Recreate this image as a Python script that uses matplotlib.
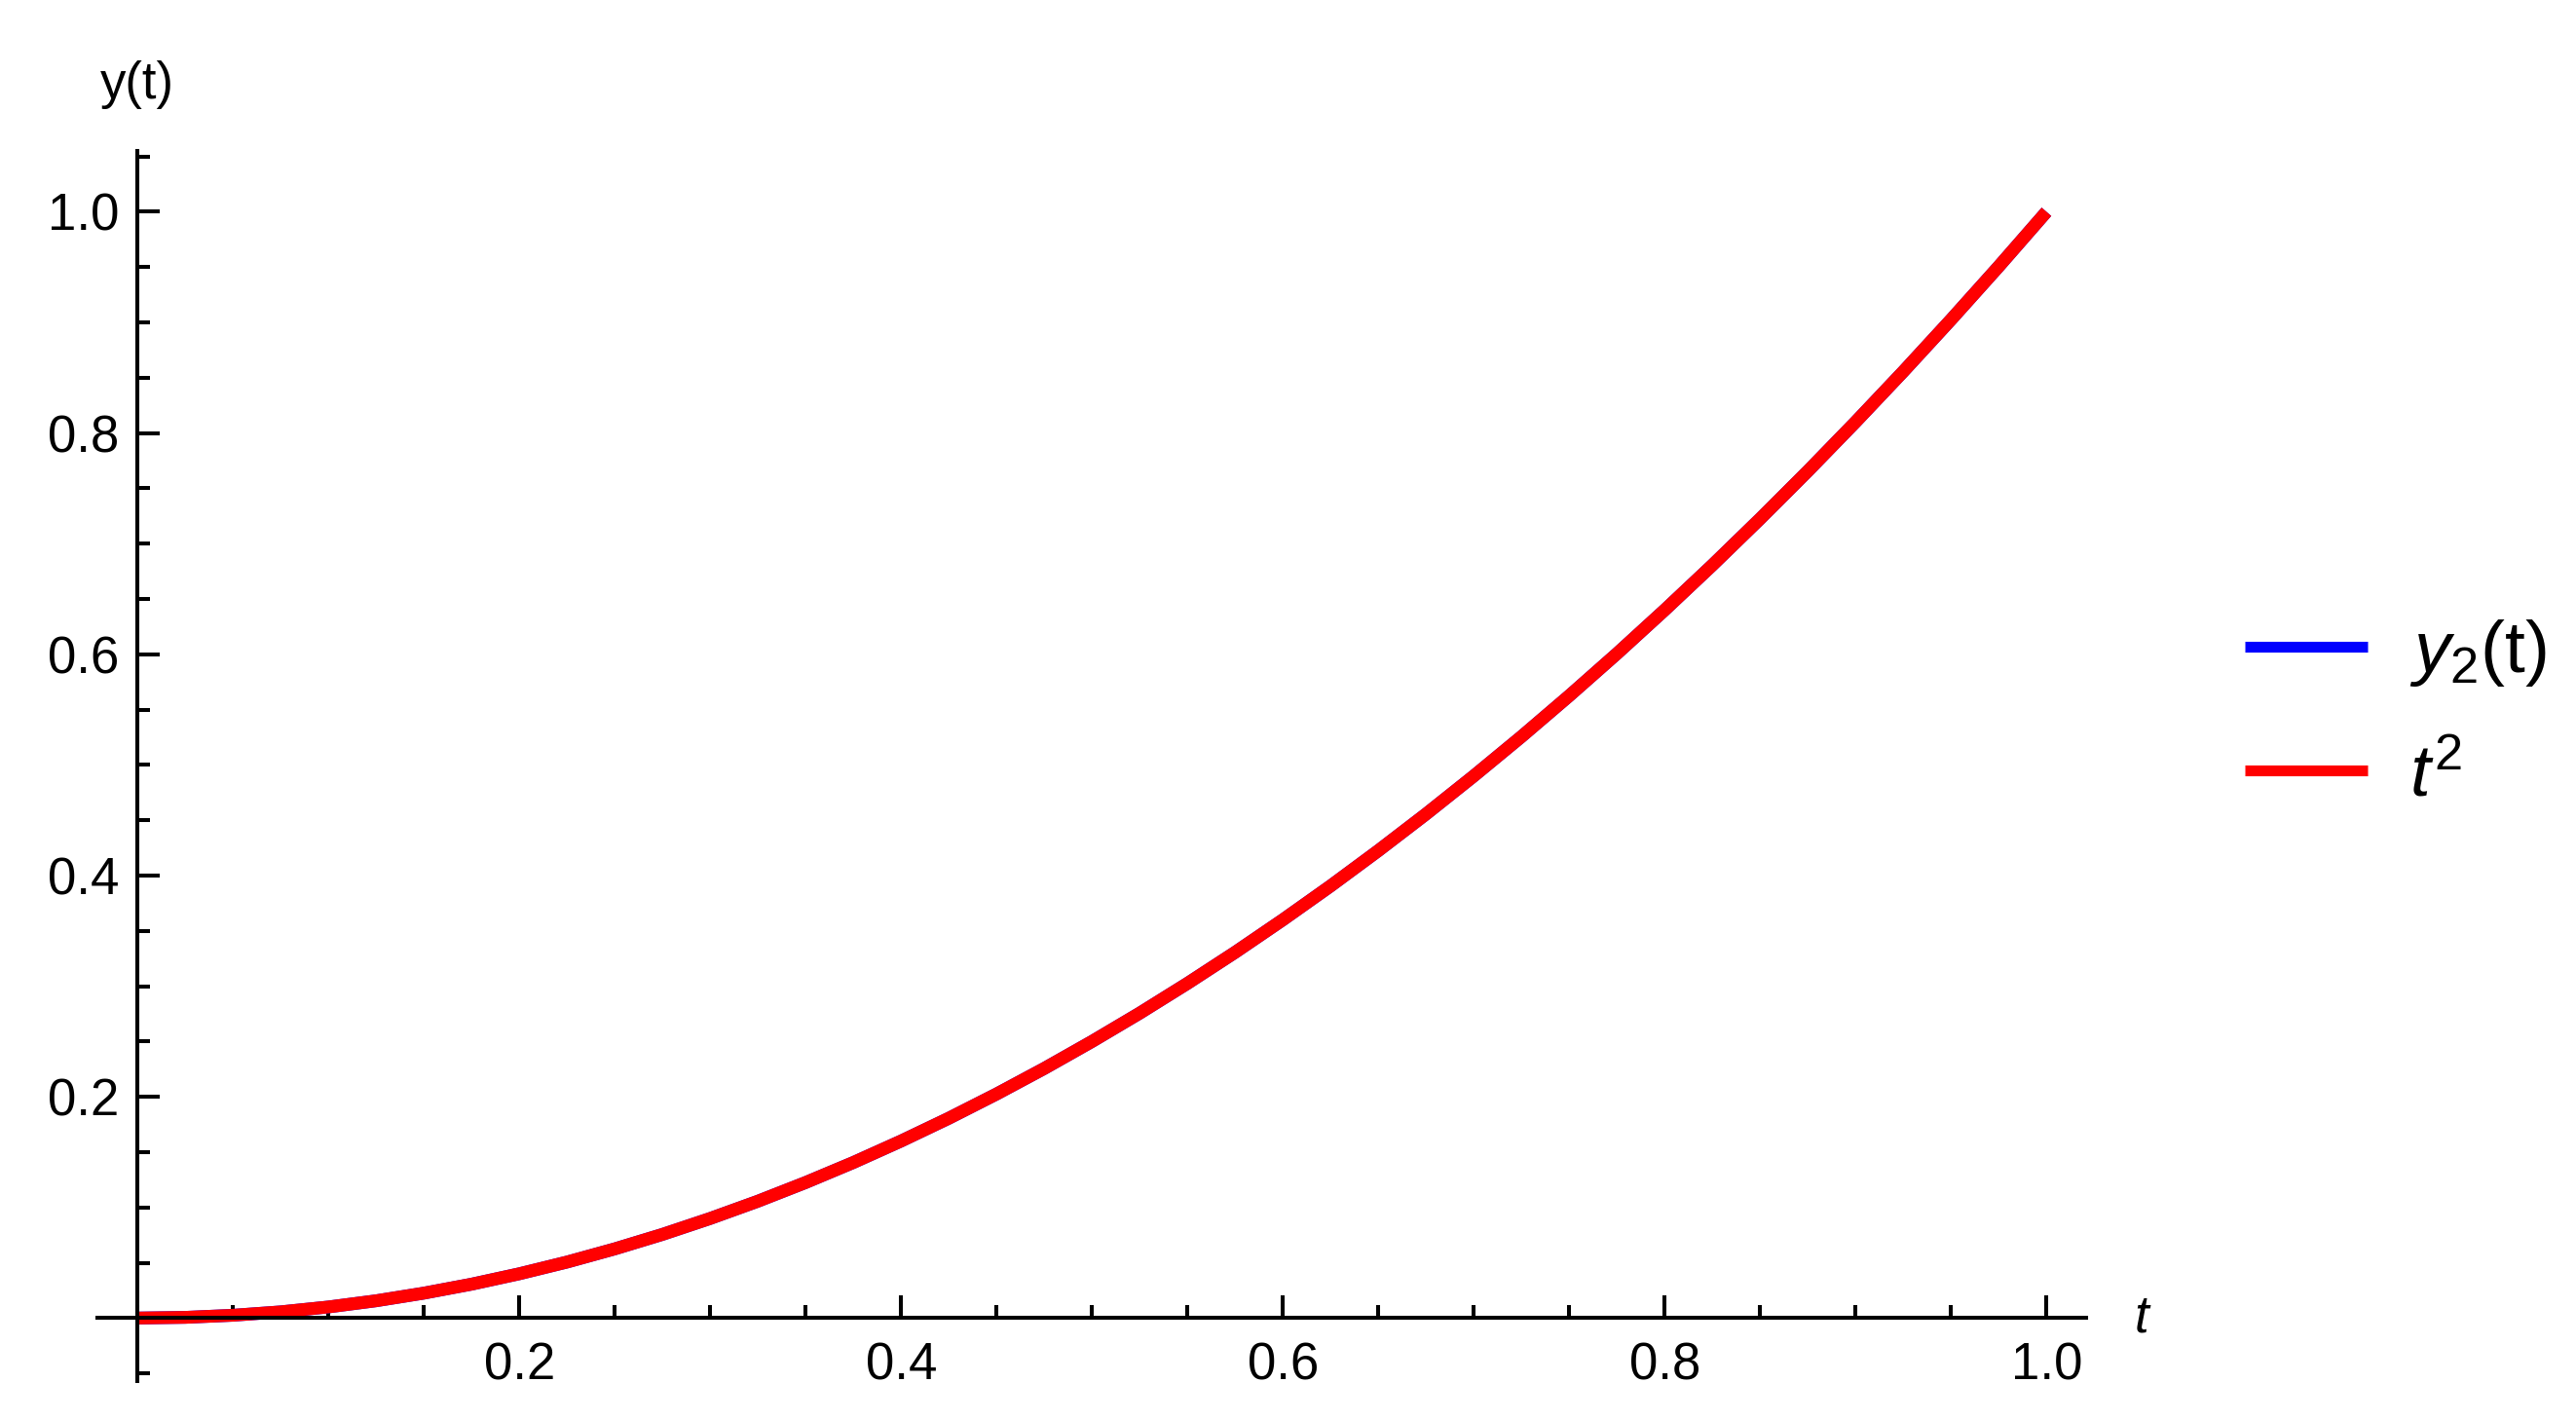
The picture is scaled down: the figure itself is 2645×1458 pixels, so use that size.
import numpy as np
import matplotlib
matplotlib.use('Agg')
import matplotlib.pyplot as plt
from matplotlib.ticker import MultipleLocator, FixedLocator

plt.rcParams['font.family'] = ['Liberation Sans', 'DejaVu Sans']
plt.rcParams['mathtext.fontset'] = 'custom'
plt.rcParams['mathtext.rm'] = 'Liberation Sans'
plt.rcParams['mathtext.it'] = 'Liberation Sans:italic'

# values (the two curves lie on top of each other)
t_vals = [0.000, 0.025, 0.050, 0.075, 0.100, 0.125, 0.150, 0.175, 0.200, 0.225,
          0.250, 0.275, 0.300, 0.325, 0.350, 0.375, 0.400, 0.425, 0.450, 0.475,
          0.500, 0.525, 0.550, 0.575, 0.600, 0.625, 0.650, 0.675, 0.700, 0.725,
          0.750, 0.775, 0.800, 0.825, 0.850, 0.875, 0.900, 0.925, 0.950, 0.975,
          1.000]
y2_vals = [0.0000, 0.0006, 0.0025, 0.0056, 0.0100, 0.0156, 0.0225, 0.0306,
           0.0400, 0.0506, 0.0625, 0.0756, 0.0900, 0.1056, 0.1225, 0.1406,
           0.1600, 0.1806, 0.2025, 0.2256, 0.2500, 0.2756, 0.3025, 0.3306,
           0.3600, 0.3906, 0.4225, 0.4556, 0.4900, 0.5256, 0.5625, 0.6006,
           0.6400, 0.6806, 0.7225, 0.7656, 0.8100, 0.8556, 0.9025, 0.9506,
           1.0000]
tsq_vals = [0.0000, 0.0006, 0.0025, 0.0056, 0.0100, 0.0156, 0.0225, 0.0306,
            0.0400, 0.0506, 0.0625, 0.0756, 0.0900, 0.1056, 0.1225, 0.1406,
            0.1600, 0.1806, 0.2025, 0.2256, 0.2500, 0.2756, 0.3025, 0.3306,
            0.3600, 0.3906, 0.4225, 0.4556, 0.4900, 0.5256, 0.5625, 0.6006,
            0.6400, 0.6806, 0.7225, 0.7656, 0.8100, 0.8556, 0.9025, 0.9506,
            1.0000]
x_ticks = [0.2, 0.4, 0.6, 0.8, 1.0]
y_ticks = [0.2, 0.4, 0.6, 0.8, 1.0]
labels = [r'$y_2$(t)', r'$t^2$']

fig = plt.figure(figsize=(13.225, 7.29), dpi=200)
ax = fig.add_axes([0.0378, 0.0274, 0.7722, 0.8663])

ax.plot(t_vals, y2_vals, color='#0000ff', lw=4.7, solid_capstyle='butt', label=labels[0])
ax.plot(t_vals, tsq_vals, color='#ff0000', lw=4.7, solid_capstyle='butt', label=labels[1])

ax.set_xlim(-0.021, 1.021)
ax.set_ylim(-0.057, 1.055)

# axes crossing at the origin
ax.spines['left'].set_position(('data', 0))
ax.spines['bottom'].set_position(('data', 0))
ax.spines['right'].set_visible(False)
ax.spines['top'].set_visible(False)
for s in ['left', 'bottom']:
    ax.spines[s].set_linewidth(1.45)

ax.xaxis.set_major_locator(FixedLocator(x_ticks))
ax.yaxis.set_major_locator(FixedLocator(y_ticks))
ax.xaxis.set_minor_locator(MultipleLocator(0.05))
ax.yaxis.set_minor_locator(MultipleLocator(0.05))
ax.set_xticklabels(['%.1f' % v for v in x_ticks])
ax.set_yticklabels(['%.1f' % v for v in y_ticks])
ax.tick_params(which='major', direction='in', length=8.3, width=1.45, labelsize=19)
ax.tick_params(which='minor', direction='in', length=4.7, width=1.45)
ax.tick_params(axis='x', pad=8.6)
ax.tick_params(axis='y', pad=6.8)

ax.text(0, 1.115, 'y(t)', ha='center', va='center', fontsize=19, clip_on=False)
ax.text(1.05, 0, 't', ha='center', va='center', fontsize=19, style='italic', clip_on=False)

leg = fig.legend(loc='center left', bbox_to_anchor=(0.8715, 0.497), frameon=False,
                 fontsize=27, handlelength=1.68, handletextpad=0.57, labelspacing=0.75,
                 borderpad=0, borderaxespad=0)
for line in leg.get_lines():
    line.set_linewidth(4)

fig.savefig('out.png', dpi=200)
